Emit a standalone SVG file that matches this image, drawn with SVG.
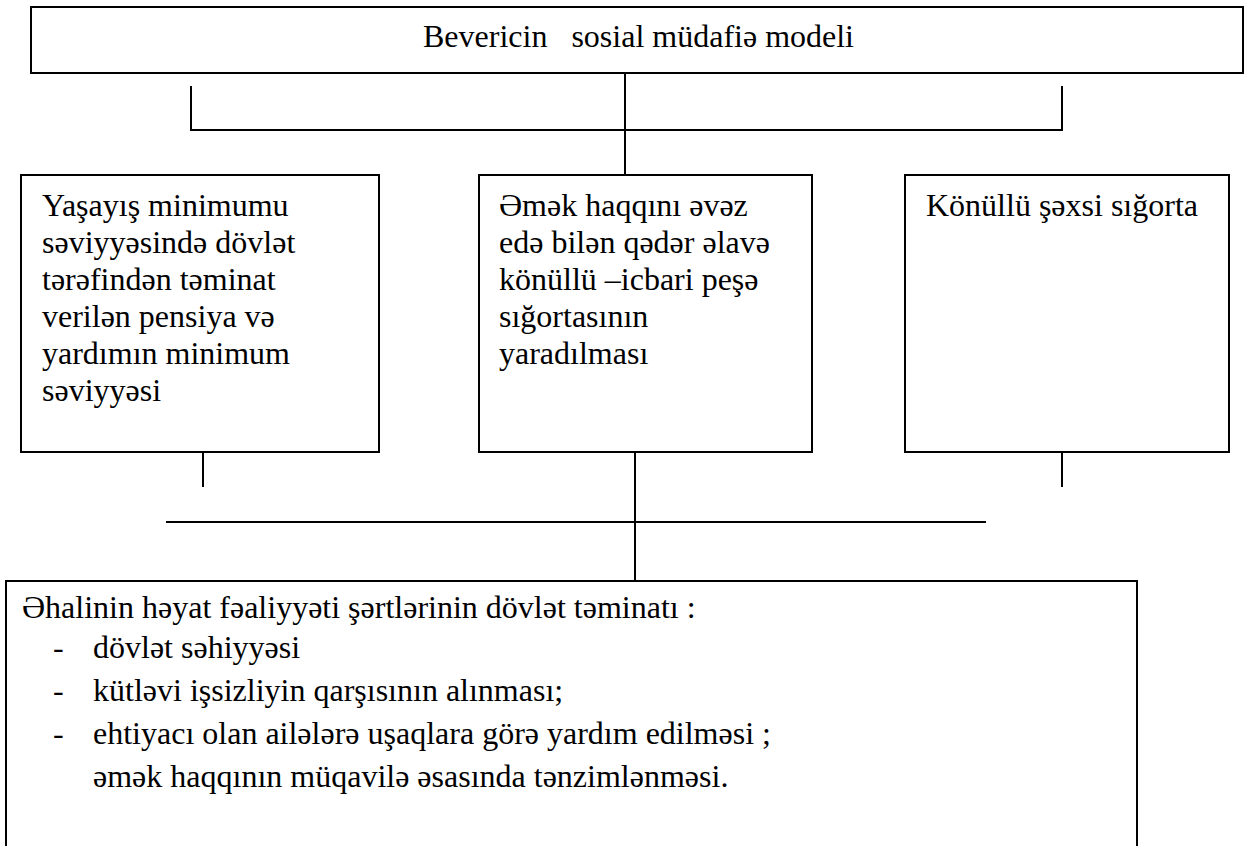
<svg xmlns="http://www.w3.org/2000/svg" width="1251" height="846" viewBox="0 0 1251 846">
  <style>
    .box { fill: #ffffff; stroke: #000000; stroke-width: 2; }
    .wire { fill: none; stroke: #000000; stroke-width: 2; }
    .t { font-family: "Liberation Serif", "Times New Roman", "DejaVu Serif", serif; font-size: 32px; fill: #000000; }
  </style>
  <rect width="1251" height="846" fill="#ffffff"/>

  <!-- connectors -->
  <g id="connectors">
    <line class="wire" x1="625" y1="73" x2="625" y2="175"/>
    <polyline class="wire" points="191,86 191,130 1062,130 1062,86"/>
    <line class="wire" x1="203" y1="452" x2="203" y2="487"/>
    <line class="wire" x1="1062" y1="452" x2="1062" y2="487"/>
    <line class="wire" x1="166" y1="522" x2="986" y2="522"/>
    <line class="wire" x1="635" y1="452" x2="635" y2="581"/>
  </g>

  <!-- top: model title -->
  <g id="model">
    <rect class="box" x="31" y="7" width="1212" height="66"/>
    <text class="t" x="423" y="47" xml:space="preserve">Bevericin   sosial müdafiə modeli</text>
  </g>

  <!-- state minimum guarantee -->
  <g id="minimum">
    <rect class="box" x="21" y="175" width="358" height="277"/>
    <text class="t">
      <tspan x="42" y="216">Yaşayış minimumu</tspan>
      <tspan x="42" y="253">səviyyəsində dövlət</tspan>
      <tspan x="42" y="290">tərəfindən təminat</tspan>
      <tspan x="42" y="327">verilən pensiya və</tspan>
      <tspan x="42" y="364">yardımın minimum</tspan>
      <tspan x="42" y="401">səviyyəsi</tspan>
    </text>
  </g>

  <!-- professional insurance -->
  <g id="professional">
    <rect class="box" x="479" y="175" width="333" height="277"/>
    <text class="t">
      <tspan x="499" y="216">Əmək haqqını əvəz</tspan>
      <tspan x="499" y="253">edə bilən qədər əlavə</tspan>
      <tspan x="499" y="290">könüllü –icbari peşə</tspan>
      <tspan x="499" y="327">sığortasının</tspan>
      <tspan x="499" y="364">yaradılması</tspan>
    </text>
  </g>

  <!-- voluntary personal insurance -->
  <g id="voluntary">
    <rect class="box" x="905" y="175" width="324" height="277"/>
    <text class="t" x="926" y="216">Könüllü şəxsi sığorta</text>
  </g>

  <!-- bottom: state guarantee of living conditions -->
  <g id="guarantee">
    <rect class="box" x="6" y="581" width="1131" height="280"/>
    <text class="t">
      <tspan x="22" y="618">Əhalinin həyat fəaliyyəti şərtlərinin dövlət təminatı :</tspan>
      <tspan x="53" y="658">-</tspan>
      <tspan x="93" y="658">dövlət səhiyyəsi</tspan>
      <tspan x="53" y="701">-</tspan>
      <tspan x="93" y="701">kütləvi işsizliyin qarşısının alınması;</tspan>
      <tspan x="53" y="744">-</tspan>
      <tspan x="93" y="744">ehtiyacı olan ailələrə uşaqlara görə yardım edilməsi ;</tspan>
      <tspan x="93" y="787">əmək haqqının müqavilə əsasında tənzimlənməsi.</tspan>
    </text>
  </g>
</svg>
